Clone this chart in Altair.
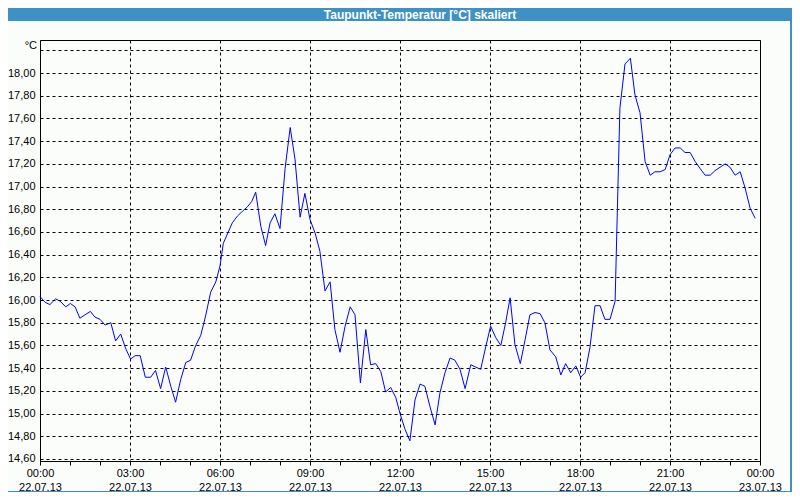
import altair as alt
import pandas as pd

# ---- data ----
hours = [0.00, 0.17, 0.33, 0.52, 0.67, 0.86, 1.01, 1.17, 1.33, 1.50,
         1.68, 1.83, 2.00, 2.17, 2.36, 2.52, 2.69, 2.86, 3.02, 3.17,
         3.34, 3.51, 3.69, 3.85, 4.02, 4.19, 4.36, 4.52, 4.69, 4.86,
         5.02, 5.19, 5.36, 5.52, 5.69, 5.86,
         6.00, 6.11, 6.26, 6.41, 6.58, 6.74, 6.91, 7.06, 7.19, 7.36,
         7.52, 7.67, 7.83, 8.00, 8.17, 8.34, 8.50, 8.67, 8.83, 9.00,
         9.17, 9.33, 9.50, 9.67, 9.83, 10.00, 10.17, 10.34, 10.50, 10.68,
         10.86, 11.02, 11.19, 11.36, 11.52, 11.69, 11.86,
         12.00, 12.17, 12.33, 12.50, 12.67, 12.83, 13.00, 13.17, 13.33, 13.50,
         13.67, 13.83, 14.00, 14.17, 14.36, 14.52, 14.69, 14.86, 15.02, 15.19,
         15.36, 15.52, 15.67, 15.83, 16.01, 16.17, 16.33, 16.50, 16.67, 16.83,
         17.00, 17.19, 17.36, 17.52, 17.69, 17.86, 18.02,
         18.17, 18.33, 18.50, 18.67, 18.83, 19.00, 19.17, 19.33, 19.50, 19.68,
         19.83, 20.00, 20.17, 20.34, 20.50, 20.67, 20.84, 21.00, 21.17, 21.34,
         21.50, 21.67, 21.84, 22.00, 22.17, 22.34, 22.50, 22.67, 22.84, 23.00,
         23.17, 23.34, 23.50, 23.67, 23.84]

dewpoint = [16.03, 15.98, 15.96, 16.01, 15.99, 15.94, 15.97, 15.94, 15.84, 15.87,
            15.90, 15.85, 15.83, 15.78, 15.80, 15.64, 15.70, 15.57, 15.48, 15.51,
            15.51, 15.32, 15.32, 15.38, 15.22, 15.41, 15.24, 15.10, 15.30, 15.45,
            15.47, 15.60, 15.69, 15.86, 16.07, 16.16,
            16.30, 16.50, 16.59, 16.68, 16.74, 16.78, 16.82, 16.87, 16.95, 16.65,
            16.48, 16.68, 16.76, 16.63, 17.16, 17.52, 17.24, 16.73, 16.94, 16.71,
            16.59, 16.43, 16.08, 16.16, 15.74, 15.54, 15.77, 15.94, 15.87, 15.27,
            15.74, 15.43, 15.44, 15.37, 15.19, 15.23, 15.14,
            15.00, 14.86, 14.76, 15.12, 15.26, 15.24, 15.06, 14.90, 15.18, 15.36,
            15.49, 15.47, 15.39, 15.22, 15.43, 15.41, 15.39, 15.59, 15.77, 15.67,
            15.60, 15.80, 16.02, 15.61, 15.44, 15.65, 15.87, 15.89, 15.88, 15.80,
            15.56, 15.50, 15.34, 15.44, 15.36, 15.42, 15.32,
            15.36, 15.58, 15.95, 15.95, 15.83, 15.83, 15.99, 17.69, 18.08, 18.13,
            17.81, 17.65, 17.22, 17.10, 17.13, 17.13, 17.15, 17.28, 17.34, 17.34,
            17.30, 17.30, 17.22, 17.16, 17.10, 17.10, 17.14, 17.17, 17.20, 17.17,
            17.10, 17.13, 16.99, 16.81, 16.72]

x_tick_hours = list(range(0, 25))
x_label_times = ["00:00", "03:00", "06:00", "09:00", "12:00", "15:00", "18:00", "21:00", "00:00"]
x_label_dates = ["22.07.13", "22.07.13", "22.07.13", "22.07.13", "22.07.13",
                 "22.07.13", "22.07.13", "22.07.13", "23.07.13"]
y_tick_values = [14.6, 14.8, 15.0, 15.2, 15.4, 15.6, 15.8, 16.0, 16.2, 16.4,
                 16.6, 16.8, 17.0, 17.2, 17.4, 17.6, 17.8, 18.0, 18.2]
title_text = "Taupunkt-Temperatur [°C] skaliert"
unit_text = "°C"

df = pd.DataFrame({"h": hours, "v": dewpoint})

FONT = "Liberation Sans"
BLUE = "#3d91c4"
times_js = "[" + ",".join(f"'{t}'" for t in x_label_times) + "]"
dates_js = "[" + ",".join(f"'{d}'" for d in x_label_dates) + "]"
x_label_expr = (f"datum.value % 3 === 0 ? [{times_js}[datum.value/3], "
                f"{dates_js}[datum.value/3]] : ''")
y_label_expr = "datum.value > 18.1 ? '' : replace(format(datum.value, '.2f'), '.', ',')"

line = alt.Chart(df).mark_line(color="#0000ff", strokeWidth=1).encode(
    x=alt.X("h:Q",
            scale=alt.Scale(domain=[0, 24], nice=False, zero=False),
            axis=alt.Axis(values=x_tick_hours, labelExpr=x_label_expr, title=None,
                          grid=True, gridColor="#000000", gridDash=[3, 3], gridWidth=1,
                          gridOpacity={"condition": {"test": "datum.value % 3 !== 0", "value": 0},
                                       "value": 1},
                          ticks=True, tickSize=4, tickColor="#000000",
                          domain=False, labelFont=FONT, labelFontSize=11,
                          labelColor="#000000", labelPadding=2, labelLineHeight=14,
                          labelOverlap=False, labelFlush=False, labelBaseline="top")),
    y=alt.Y("v:Q",
            scale=alt.Scale(domain=[14.582, 18.291], nice=False, zero=False),
            axis=alt.Axis(values=y_tick_values, labelExpr=y_label_expr, title=None,
                          grid=True, gridColor="#000000", gridDash=[3, 3], gridWidth=1,
                          ticks=False, domain=False, labelFont=FONT, labelFontSize=11,
                          labelColor="#000000", labelPadding=5)),
)

one = pd.DataFrame({"t": [title_text]})
unit_df = pd.DataFrame({"t": [unit_text]})

title_bar = alt.Chart(one).mark_rect(color=BLUE).encode(
    x=alt.value(-32), x2=alt.value(752), y=alt.value(-32), y2=alt.value(-19))
title = alt.Chart(one).mark_text(color="white", font=FONT, fontSize=12, fontWeight="bold",
                                 align="center", baseline="middle").encode(
    text="t:N", x=alt.value(380), y=alt.value(-25.5))
unit = alt.Chart(unit_df).mark_text(color="#000000", font=FONT, fontSize=11,
                                    align="right", baseline="middle").encode(
    text="t:N", x=alt.value(-3), y=alt.value(6))
right_border = alt.Chart(one).mark_rect(color=BLUE).encode(
    x=alt.value(750), x2=alt.value(752), y=alt.value(-32), y2=alt.value(452))
bottom_border = alt.Chart(one).mark_rect(color=BLUE).encode(
    x=alt.value(-32), x2=alt.value(752), y=alt.value(451), y2=alt.value(452))

chart = alt.layer(title_bar, title, unit, right_border, bottom_border, line).properties(
    width=720, height=421,
    autosize=alt.AutoSizeParams(type="none"),
    padding={"left": 32, "top": 32, "right": 32, "bottom": 31},
    background="#fbfdfb",
).configure_view(stroke="#000000", strokeWidth=1)

chart.save("out.html", embed_options={"renderer": "svg", "actions": False})
